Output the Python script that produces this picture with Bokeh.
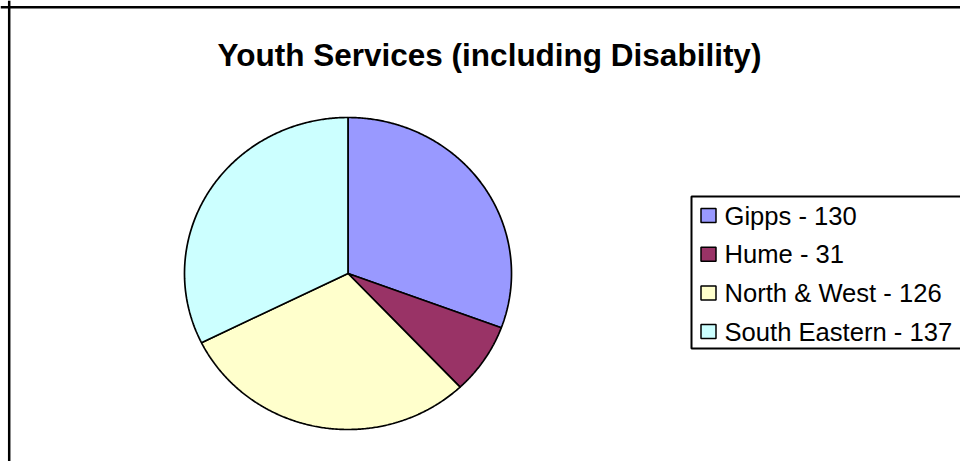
import numpy as np
from bokeh.plotting import figure
from bokeh.models import Range1d, Span
from bokeh.core.properties import value
from bokeh.embed import file_html
from bokeh.resources import INLINE

# ---- data ----
title_text = "Youth Services (including Disability)"
regions = ["Gipps", "Hume", "North & West", "South Eastern"]
counts = [130, 31, 126, 137]
colors = ["#9999FF", "#993366", "#FFFFCC", "#CCFFFF"]

W, H = 960, 461
p = figure(width=W, height=H, x_range=Range1d(0, W), y_range=Range1d(H, 0),
           output_backend="svg", toolbar_location=None, min_border=0,
           x_axis_location=None, y_axis_location=None, outline_line_color=None,
           background_fill_color="white", border_fill_color="white")
p.grid.visible = False

# chart border (left and top visible in the reference)
p.add_layout(Span(location=8.7, dimension="height", line_color="black", line_width=2.5))
p.add_layout(Span(location=6.7, dimension="width", line_color="black", line_width=2.5))

# title
p.text(x=[489], y=[54], text=[title_text], text_font=value("Liberation Sans"),
       text_font_style="bold", text_font_size="31.5px", text_align="center",
       text_baseline="alphabetic", text_color="black")

# pie (slightly elliptical, clockwise from 12 o'clock)
cx, cy, rx, ry = 347.5, 273.0, 163.5, 156.0
total = float(sum(counts))
ends = np.cumsum(counts) / total * 2 * np.pi
starts = np.concatenate([[0.0], ends[:-1]])
xs, ys = [], []
for a0, a1 in zip(starts, ends):
    t = np.linspace(a0, a1, 240)
    xs.append(np.concatenate([[cx], cx + rx * np.sin(t)]))
    ys.append(np.concatenate([[cy], cy - ry * np.cos(t)]))
p.patches(xs, ys, fill_color=colors, line_color="black", line_width=1.7)

# legend
p.quad(left=[691], right=[1100], top=[196], bottom=[348], fill_color="white",
       line_color="black", line_width=2)
row_y = 215 + 38.7 * np.arange(len(regions))
labels = [f"{r} - {c}" for r, c in zip(regions, counts)]
p.rect(x=708, y=row_y, width=15, height=14, width_units="screen", height_units="screen",
       fill_color=colors, line_color="black", line_width=1.5)
p.text(x=724, y=row_y, text=labels, text_font=value("Liberation Sans"),
       text_font_size="25.6px", text_baseline="middle", text_align="left", text_color="black")

open("out.html", "w").write(file_html(p, INLINE))
